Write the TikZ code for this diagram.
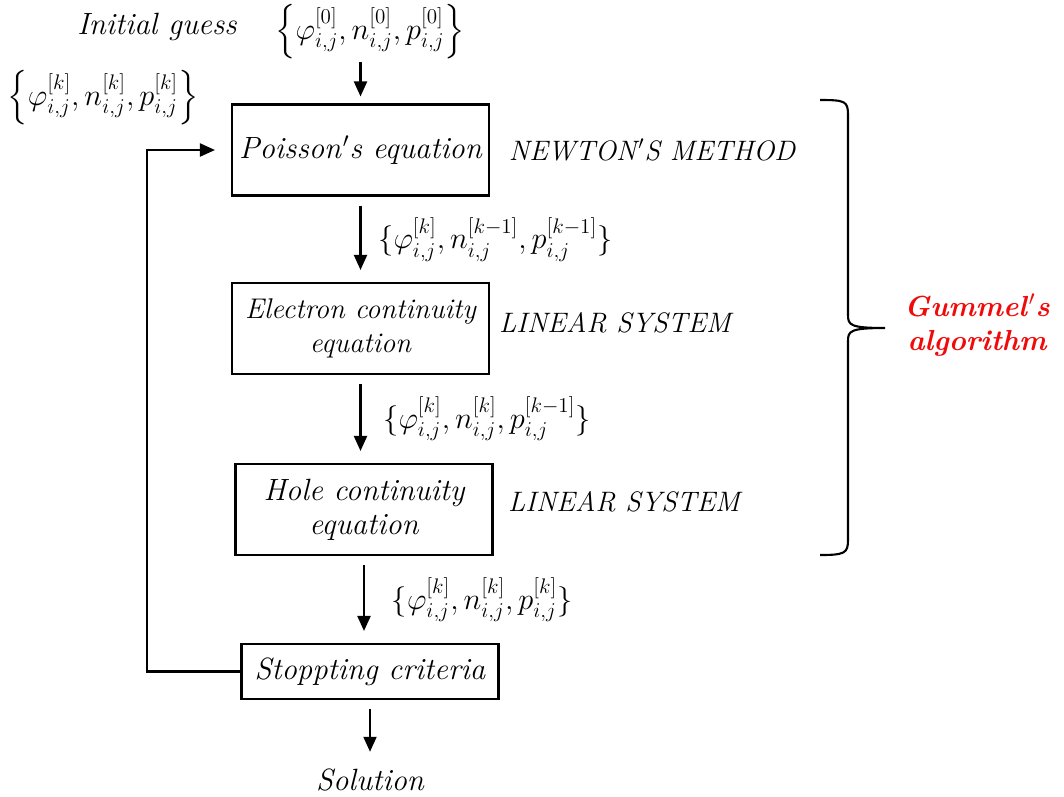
\documentclass[tikz,border=0pt]{standalone}
\usepackage{amsmath}
\usepackage{xcolor}
\usetikzlibrary{arrows.meta, positioning, calc}
\definecolor{gumred}{RGB}{240, 10, 10}
\tikzset{
  stagebox/.style={rectangle, draw=black, line width=1.2pt, fill=white,
                   minimum width=#1, minimum height=1.82cm, align=center,
                   inner sep=2pt, font=\fontsize{17.5}{19.5}\selectfont\itshape},
  stagebox/.default=5.14cm,
  lbl/.style={font=\fontsize{17.5}{19.5}\selectfont\itshape, inner sep=1pt},
  caplbl/.style={font=\fontsize{16}{19}\selectfont\itshape, inner sep=1pt},
  setlbl/.style={font=\fontsize{17}{20}\selectfont, inner sep=1pt},
  arrow/.style={-{Triangle[length=0.3cm, width=0.26cm]}, line width=1.2pt,
                shorten <=0.18cm, shorten >=0.24cm},
}
\begin{document}
\begin{tikzpicture}
  \useasboundingbox (0,0) rectangle (21.28,-15.92);
  % Initial guess
  \node[lbl] (guess) at (3.14,-0.54) {Initial guess};
  \node[setlbl, inner sep=0pt] (init) at (7.4,-0.64)
       {$\Bigl\{\varphi^{[0]}_{i,j},n^{[0]}_{i,j},p^{[0]}_{i,j}\Bigr\}$};
  \node[setlbl] (iter) at (2.06,-1.96)
       {$\Bigl\{\varphi^{[k]}_{i,j},n^{[k]}_{i,j},p^{[k]}_{i,j}\Bigr\}$};

  % Stages of the iteration
  \node[stagebox] (poisson) at (7.21,-3.0) {Poisson\kern1pt$'$s equation};
  \node[stagebox, font=\fontsize{16.2}{19.5}\selectfont\itshape] (electron) at (7.21,-6.57)
       {Electron continuity\\equation};
  \node[stagebox] (hole) at (7.28,-10.19) {Hole continuity\\equation};
  \node[stagebox, minimum height=1.1cm] (stop) at (7.4,-13.43) {Stoppting criteria};
  \node[lbl] (solution) at (7.4,-15.6) {Solution};

  % Solvers
  \node[caplbl] (newton) at (13.04,-3.0) {NEWTON\kern1pt$'$S METHOD};
  \node[caplbl] (linsys1) at (12.3,-6.46) {LINEAR SYSTEM};
  \node[caplbl] (linsys2) at (12.48,-10.04) {LINEAR SYSTEM};

  % Forward arrows
  \draw[arrow, shorten <=0.05cm, shorten >=0.14cm] (poisson.north |- init.south) -- (poisson.north);
  \draw[arrow] (poisson.south) -- (poisson.south |- electron.north)
       node[midway, right=0.3cm, setlbl]
       {$\{\varphi^{[k]}_{i,j},n^{[k-1]}_{i,j},p^{[k-1]}_{i,j}\}$};
  \draw[arrow] (electron.south) -- (electron.south |- hole.north)
       node[midway, right=0.4cm, setlbl]
       {$\{\varphi^{[k]}_{i,j},n^{[k]}_{i,j},p^{[k-1]}_{i,j}\}$};
  \draw[arrow] (hole.south) -- (hole.south |- stop.north)
       node[midway, right=0.5cm, setlbl]
       {$\{\varphi^{[k]}_{i,j},n^{[k]}_{i,j},p^{[k]}_{i,j}\}$};
  \draw[arrow, shorten >=0.3cm] (stop.south) -- (solution.north);

  % Feedback loop
  \coordinate (loopcorner) at (2.94,-13.43);
  \draw[arrow, shorten <=0cm, shorten >=0.32cm] (stop.west) -- (loopcorner) |- (poisson.west);

  % Brace for Gummel's algorithm
  \draw[line width=1.2pt] (16.4,-2.0) .. controls (16.9,-2.0) and (16.96,-2.02) .. (16.96,-2.3)
       -- (16.96,-6.3) .. controls (16.96,-6.5) and (17.0,-6.56) .. (17.7,-6.56)
       (17.7,-6.56) .. controls (17.0,-6.56) and (16.96,-6.62) .. (16.96,-6.82)
       -- (16.96,-10.8) .. controls (16.96,-11.06) and (16.9,-11.1) .. (16.4,-11.1);
  \node[lbl, font=\fontsize{16.5}{19}\selectfont\bfseries\itshape, text=gumred, align=center]
       (gummel) at (19.54,-6.5) {Gummel\kern1pt$'$s\\algorithm};
\end{tikzpicture}
\end{document}
